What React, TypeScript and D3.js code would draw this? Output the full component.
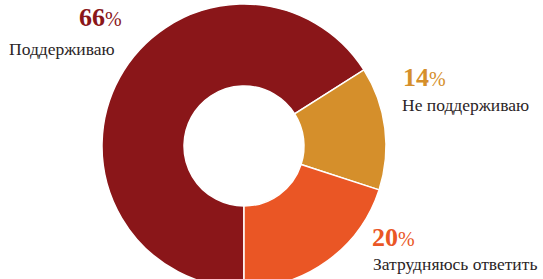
import React from "react";
import * as d3 from "d3";

// survey answers
const categories = ["Поддерживаю", "Не поддерживаю", "Затрудняюсь ответить"];
const values = [66, 14, 20];
const colors = ["#8a1619", "#d58f2b", "#ea5625"];

// where each label block sits (percent baseline, caption baseline)
const labelPos = [
  { x: 79, y: 26, cx: 9, cy: 55 },
  { x: 403, y: 86, cx: 402, cy: 111 },
  { x: 372, y: 246, cx: 373, cy: 270 },
];

const width = 543;
const height = 279;

export default function App() {
  const cx = 244;
  const cy = 146;
  const outerR = 142;
  const innerR = 60;

  const pie = d3
    .pie<number>()
    .sort(null)
    .startAngle(Math.PI)
    .endAngle(3 * Math.PI);
  const arcs = pie(values);
  const arc = d3.arc<d3.PieArcDatum<number>>().innerRadius(innerR).outerRadius(outerR);

  return (
    <svg
      width={width}
      height={height}
      style={{ position: "absolute", left: 0, top: 0, background: "#fff" }}
      fontFamily="'Liberation Serif', 'DejaVu Serif', serif"
    >
      <g transform={`translate(${cx},${cy})`}>
        {arcs.map((a, i) => (
          <path key={i} d={arc(a) || ""} fill={colors[i]} stroke="#fff" strokeWidth={1.5} />
        ))}
      </g>
      {categories.map((c, i) => (
        <g key={c}>
          <text x={labelPos[i].x} y={labelPos[i].y} fill={colors[i]}>
            <tspan fontSize={26} fontWeight="bold">
              {values[i]}
            </tspan>
            <tspan fontSize={20}>%</tspan>
          </text>
          <text x={labelPos[i].cx} y={labelPos[i].cy} fontSize={17.5} fill="#2b2526">
            {c}
          </text>
        </g>
      ))}
    </svg>
  );
}
